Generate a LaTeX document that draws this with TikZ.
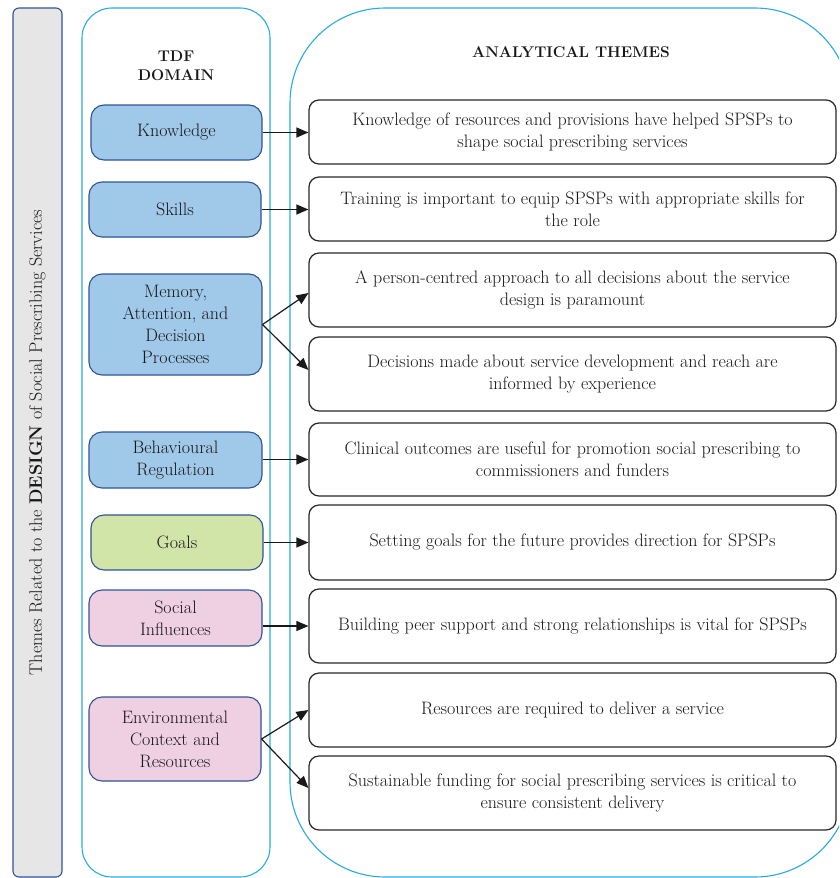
\documentclass[tikz,border=0pt]{standalone}
\usetikzlibrary{arrows.meta}
\definecolor{dblue}{RGB}{47,84,150}
\definecolor{lblue}{RGB}{159,200,233}
\definecolor{lgreen}{RGB}{210,229,169}
\definecolor{lpink}{RGB}{239,208,227}
\definecolor{cyanline}{RGB}{41,171,226}
\definecolor{lgray}{RGB}{230,230,230}
\definecolor{txt}{RGB}{25,22,23}
\tikzset{
  domainbox/.style={draw=dblue, line width=1.1pt, rounded corners=13pt, align=center, inner sep=0pt, text=txt},
  themebox/.style={draw=black!85, line width=1.2pt, rounded corners=10pt, align=center, inner sep=0pt,
    minimum width=527pt, text=txt},
  container/.style={draw=cyanline, line width=1.1pt},
  arr/.style={line width=1.2pt, draw=black!90, -{Triangle[length=12pt,width=10pt]}},
  hdr/.style={font=\fontsize{15.5}{19}\selectfont\bfseries, align=center, text=txt, inner sep=0pt}
}
\begin{document}
\begin{tikzpicture}[x=1pt, y=-1pt, font=\fontsize{18}{22}\selectfont]
\useasboundingbox (0,0) rectangle (839,878);
\clip (0,0) rectangle (839,878);
% containers
\node[draw=dblue, fill=lgray, line width=1.1pt, rounded corners=6pt, minimum width=49pt, minimum height=869pt, inner sep=0pt] (gbar) at (37.5,442.5) {};
\node[rotate=90, text=txt, inner sep=0pt] (vlab) at (gbar.center) {Themes Related to the \textbf{DESIGN} of Social Prescribing Services};
\draw[container, rounded corners=30pt] (82,8) rectangle (270,877);
\coordinate (lcol) at (176,8);
\draw[container, rounded corners=95pt] (290,8) rectangle (850,877);
\coordinate (rcol) at (570,8);
% headers
\node[hdr] (h1) at (176,66) {TDF\\DOMAIN};
\node[hdr] (h2) at (571,52) {ANALYTICAL THEMES};
% domain boxes
\node[domainbox, fill=lblue, minimum width=171pt, minimum height=55pt] (kn) at (176.5,132.5) {Knowledge};
\node[domainbox, fill=lblue, minimum width=172pt, minimum height=55pt] (sk) at (175,209.5) {Skills};
\node[domainbox, fill=lblue, minimum width=173pt, minimum height=101pt] (me) at (175.5,324.5) {Memory,\\Attention, and\\Decision\\Processes};
\node[domainbox, fill=lblue, minimum width=173pt, minimum height=56pt] (be) at (175.5,460) {Behavioural\\Regulation};
\node[domainbox, fill=lgreen, minimum width=172pt, minimum height=55pt] (go) at (177,542.5) {Goals};
\node[domainbox, fill=lpink, minimum width=173pt, minimum height=56pt] (so) at (175.5,618) {Social\\Influences};
\node[domainbox, fill=lpink, minimum width=172pt, minimum height=84pt] (en) at (175,739) {Environmental\\Context and\\Resources};
% theme boxes
\node[themebox, minimum height=64pt] (t1) at (572.5,132) {Knowledge of resources and provisions have helped SPSPs to\\shape social prescribing services};
\node[themebox, minimum height=64pt] (t2) at (572.5,209) {Training is important to equip SPSPs with appropriate skills for\\the role};
\node[themebox, minimum height=74pt] (t3) at (572.5,290) {A person-centred approach to all decisions about the service\\design is paramount};
\node[themebox, minimum height=74pt] (t4) at (572.5,374) {Decisions made about service development and reach are\\informed by experience};
\node[themebox, minimum height=73pt] (t5) at (572.5,459.5) {Clinical outcomes are useful for promotion social prescribing to\\commissioners and funders};
\node[themebox, minimum height=75pt] (t6) at (572.5,542.5) {Setting goals for the future provides direction for SPSPs};
\node[themebox, minimum height=74pt] (t7) at (572.5,626) {Building peer support and strong relationships is vital for SPSPs};
\node[themebox, minimum height=74pt] (t8) at (572.5,710) {Resources are required to deliver a service};
\node[themebox, minimum height=74pt] (t9) at (572.5,793) {Sustainable funding for social prescribing services is critical to\\ensure consistent delivery};
% arrows
\draw[arr] (kn.east) -- (kn.east -| t1.west);
\draw[arr] (sk.east) -- (sk.east -| t2.west);
\draw[arr] (me.east) -- ([yshift=-3pt]t3.west);
\draw[arr] (me.east) -- ([yshift=4pt]t4.west);
\draw[arr] (be.east |- t5.west) -- (t5.west);
\draw[arr] (go.east |- t6.west) -- (t6.west);
\draw[arr] (so.east |- t7.west) -- (t7.west);
\draw[arr] (en.east) -- (t8.west);
\draw[arr] (en.east) -- ([yshift=5pt]t9.west);
\end{tikzpicture}
\end{document}
